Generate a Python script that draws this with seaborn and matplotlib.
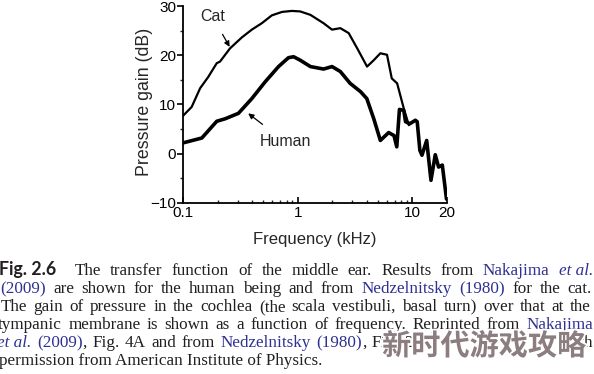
import numpy as np
import pandas as pd
import seaborn as sns
import matplotlib.pyplot as plt
import matplotlib.ticker as mticker
import matplotlib.patheffects as pe

# Values (frequency in kHz, gain in dB)
cat_freq = [0.1, 0.119, 0.141, 0.166, 0.197, 0.21, 0.257, 0.325, 0.398, 0.486, 0.595,
            0.73, 0.89, 1.05, 1.29, 1.68, 1.99, 2.35, 2.78, 3.3, 4.02, 4.6, 5.25,
            6.0, 6.6, 7.35, 8.4, 9.3]
cat_gain = [7.7, 9.5, 13.3, 15.6, 18.4, 18.7, 21.4, 23.6, 25.2, 26.5, 28.1,
            28.8, 29.0, 28.9, 28.2, 26.5, 25.2, 25.5, 24.5, 21.4, 17.7, 19.0, 20.4,
            20.1, 15.3, 14.3, 9.2, 5.8]

human_freq = [0.1, 0.146, 0.197, 0.233, 0.304, 0.398, 0.52, 0.68, 0.83, 0.92, 1.05,
              1.29, 1.68, 1.99, 2.35, 2.86, 3.53, 4.0, 4.6, 5.25, 6.2, 6.9, 7.3,
              7.7, 8.4, 8.7, 9.5, 10.6, 11.0, 11.6, 12.1, 13.3, 14.5, 15.8, 16.9,
              18.2, 19.8]
human_gain = [2.2, 3.2, 6.6, 7.1, 8.2, 11.2, 14.6, 17.7, 19.5, 19.7, 19.0,
              17.7, 17.2, 17.7, 16.7, 14.3, 12.6, 11.2, 7.1, 2.7, 4.3, 3.7, 1.4,
              9.0, 8.8, 6.5, 6.1, 6.8, 6.5, 0.7, -0.3, 2.7, -5.4, -0.2, -2.7,
              -2.3, -9.2]

x_ticks = [0.1, 1, 10, 20]
x_tick_labels = ['0.1', '1', '10', '20']
y_ticks = [-10, 0, 10, 20, 30]

caption_lines = [
    [('Fig. 2.6', 'fig'), ('The', 'n'), ('transfer', 'n'), ('function', 'n'), ('of', 'n'),
     ('the', 'n'), ('middle', 'n'), ('ear.', 'n'), ('Results', 'n'), ('from', 'n'),
     ('Nakajima', 'b'), ('et al.', 'bi')],
    [('(2009)', 'b'), ('are', 'n'), ('shown', 'n'), ('for', 'n'), ('the', 'n'), ('human', 'n'),
     ('being', 'n'), ('and', 'n'), ('from', 'n'), ('Nedzelnitsky', 'b'), ('(1980)', 'b'),
     ('for', 'n'), ('the', 'n'), ('cat.', 'n')],
    [('The', 'n'), ('gain', 'n'), ('of', 'n'), ('pressure', 'n'), ('in', 'n'), ('the', 'n'),
     ('cochlea', 'n'), ('(the', 'n'), ('scala', 'n'), ('vestibuli,', 'n'), ('basal', 'n'),
     ('turn)', 'n'), ('over', 'n'), ('that', 'n'), ('at', 'n'), ('the', 'n')],
    [('tympanic', 'n'), ('membrane', 'n'), ('is', 'n'), ('shown', 'n'), ('as', 'n'), ('a', 'n'),
     ('function', 'n'), ('of', 'n'), ('frequency.', 'n'), ('Reprinted', 'n'), ('from', 'n'),
     ('Nakajima', 'b')],
    [('et al.', 'bi'), ('(2009)', 'b'), (',', 'glue'), ('Fig.', 'n'), ('4A', 'n'), ('and', 'n'),
     ('from', 'n'), ('Nedzelnitsky', 'b'), ('(1980)', 'b'), (',', 'glue'), ('Fig.', 'n'),
     ('2,', 'n'), ('with', 'n')],
    [('permission from American Institute of Physics.', 'n')],
]

W, H = 594, 374
sns.set_style('ticks')
plt.rcParams['font.family'] = ['Liberation Sans', 'DejaVu Sans']
plt.rcParams['axes.unicode_minus'] = True

fig = plt.figure(figsize=(W / 100, H / 100), dpi=100)
ax = fig.add_axes([183 / W, 1 - 203 / H, (447 - 183) / W, (203 - 6) / H])

cat_df = pd.DataFrame({'freq': cat_freq, 'gain': cat_gain})
human_df = pd.DataFrame({'freq': human_freq, 'gain': human_gain})
sns.lineplot(data=cat_df, x='freq', y='gain', ax=ax, color='black', lw=1.6,
             sort=False, estimator=None)
sns.lineplot(data=human_df, x='freq', y='gain', ax=ax, color='black', lw=2.6,
             sort=False, estimator=None)

ax.set_xscale('log')
ax.set_xlim(0.1, 20)
ax.set_ylim(-10, 30)
ax.set_xticks(x_ticks)
ax.set_xticklabels(x_tick_labels)
ax.xaxis.set_minor_locator(mticker.LogLocator(base=10, subs=np.arange(2, 10)))
ax.xaxis.set_minor_formatter(mticker.NullFormatter())
ax.set_yticks(y_ticks)
ax.yaxis.set_minor_locator(mticker.MultipleLocator(5))
sns.despine(ax=ax)
for s in ['left', 'bottom']:
    ax.spines[s].set_linewidth(1.3)
    ax.spines[s].set_color('black')
ax.tick_params(axis='x', which='major', direction='in', length=4, width=1.2,
               labelsize=11, pad=2, colors='black')
ax.tick_params(axis='x', which='minor', direction='in', length=2.5, width=1)
ax.tick_params(axis='y', which='major', direction='out', length=4, width=1.2,
               labelsize=11, pad=1, colors='black')
ax.tick_params(axis='y', which='minor', direction='out', length=2.5, width=1)
ax.set_xlabel('Frequency (kHz)', fontsize=12, labelpad=9)
ax.set_ylabel('Pressure gain (dB)', fontsize=12.8)
ax.yaxis.set_label_coords(-0.113, 0.513)

ax.annotate('Cat', xy=(0.255, 21.7), xytext=(0.18, 27.9), fontsize=11.5,
            ha='center', va='center',
            arrowprops=dict(arrowstyle='-|>', color='black', lw=0.9,
                            shrinkA=6, shrinkB=0, mutation_scale=8))
ax.annotate('Human', xy=(0.37, 8.2), xytext=(0.78, 2.4), fontsize=11.5,
            ha='center', va='center',
            arrowprops=dict(arrowstyle='-|>', color='black', lw=0.9,
                            shrinkA=8, shrinkB=0, mutation_scale=8))

# caption, justified word by word
text_col = '#231f20'
blue = '#2e3192'
styles = {
    'n': dict(family='Liberation Serif', color=text_col),
    'glue': dict(family='Liberation Serif', color=text_col),
    'b': dict(family='Liberation Serif', color=blue),
    'bi': dict(family='Liberation Serif', color=blue, style='italic'),
    'fig': dict(family='Lato', color=text_col, weight='bold', size=12.8),
}
cap_size = 12.3
baselines = [275, 293, 311, 329, 347, 365]
x_lefts = [-1, 0, 1, -2, -3, -1]
x_rights = [593, 592, 591, 593, 593, 593]
modes = ['justify', 'justify', 'justify', 'justify', 'last_right', 'left']
renderer = fig.canvas.get_renderer()
for i, line in enumerate(caption_lines):
    y = 1 - baselines[i] / H
    items = []
    for w, s in line:
        kw = dict(styles[s])
        size = kw.pop('size', cap_size)
        items.append(fig.text(0, y, w, fontsize=size, va='baseline', **kw))
    widths = [t.get_window_extent(renderer).width for t in items]
    gaps = [0 if s == 'glue' else (2 if j > 0 and line[j - 1][1] == 'fig' else 1)
            for j, (w, s) in enumerate(line)][1:]
    if modes[i] == 'justify':
        unit = (x_rights[i] - x_lefts[i] - sum(widths)) / max(sum(gaps), 1)
    else:
        unit = 5.5
    x = x_lefts[i]
    for j, t in enumerate(items):
        if modes[i] == 'last_right' and j == len(items) - 1:
            x = x_rights[i] - widths[j]
        t.set_x(x / W)
        x += widths[j]
        if j < len(gaps):
            x += gaps[j] * unit

# watermark
fig.text(484 / W, 1 - 346 / H, '新时代游戏攻略', fontsize=21, weight='bold',
         family=['Noto Sans CJK SC', 'DejaVu Sans'], color='#8c7e80',
         ha='center', va='center',
         path_effects=[pe.withStroke(linewidth=2.5, foreground='white')])

fig.savefig('out.png', dpi=100)
